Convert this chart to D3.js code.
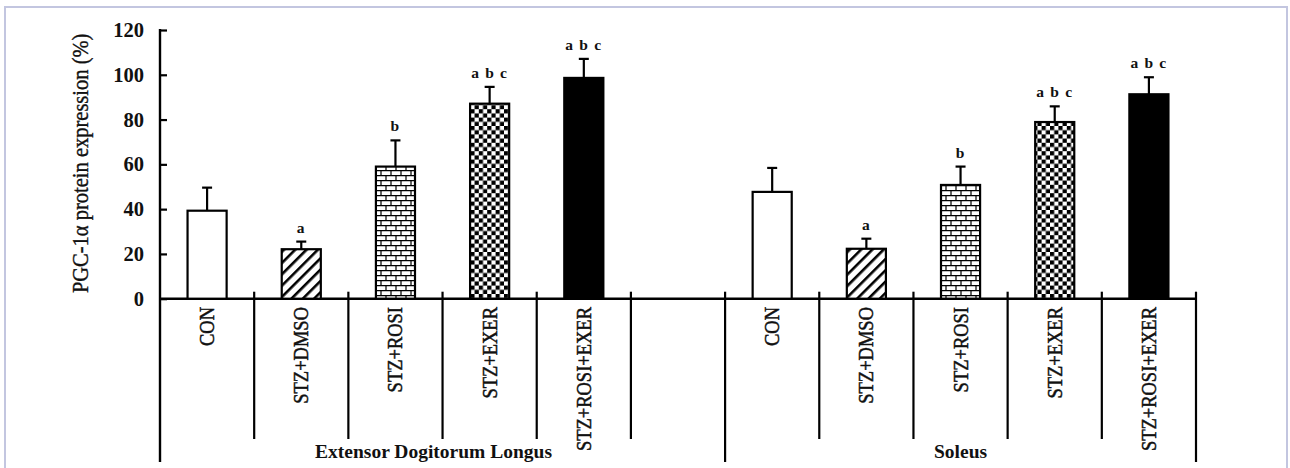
<!DOCTYPE html>
<html>
<head>
<meta charset="utf-8">
<script src="https://cdn.jsdelivr.net/npm/d3@7/dist/d3.min.js"></script>
<style>
  html, body { margin: 0; padding: 0; background: #fff; }
  svg { display: block; font-family: "Liberation Serif", "Times New Roman", serif; }
</style>
</head>
<body>
<svg id="chart" width="1290" height="468"></svg>
<script>
// ---- data ----
const groups = ["Extensor Dogitorum Longus", "Soleus"];
const treatments = ["CON", "STZ+DMSO", "STZ+ROSI", "STZ+EXER", "STZ+ROSI+EXER"];
const edlMeans = [39.3, 22.1, 59.0, 87.1, 98.6];
const edlErrors = [10.3, 3.4, 11.7, 7.5, 8.5];
const soleusMeans = [47.7, 22.3, 50.8, 78.9, 91.3];
const soleusErrors = [10.7, 4.5, 8.2, 7.0, 7.6];
const sigLetters = ["", "a", "b", "a b c", "a b c"];
const fills = ["white", "diag", "brick", "check", "black"];
const yTicks = [0, 20, 40, 60, 80, 100, 120];
const yLabel = "PGC-1\u03b1 protein  expression (%)";

// slots: 5 EDL, 1 gap, 5 Soleus
const slots = [];
treatments.forEach((t, i) => slots.push({key: "EDL-" + i, group: 0, i}));
slots.push({key: "gap", group: -1});
treatments.forEach((t, i) => slots.push({key: "SOL-" + i, group: 1, i}));

const rows = [];
treatments.forEach((t, i) => rows.push({key: "EDL-" + i, t, mean: edlMeans[i], err: edlErrors[i], letter: sigLetters[i], fill: fills[i]}));
treatments.forEach((t, i) => rows.push({key: "SOL-" + i, t, mean: soleusMeans[i], err: soleusErrors[i], letter: sigLetters[i], fill: fills[i]}));

const svg = d3.select("#chart");

// outer frame
svg.append("rect").attr("x", 5).attr("y", 7).attr("width", 1282).attr("height", 480)
  .attr("fill", "white").attr("stroke", "#c3c6e0").attr("stroke-width", 2);

// patterns
const defs = svg.append("defs");
const pDiag = defs.append("pattern").attr("id", "diag").attr("patternUnits", "userSpaceOnUse")
  .attr("width", 8).attr("height", 8).attr("patternTransform", "rotate(45)");
pDiag.append("rect").attr("width", 8).attr("height", 8).attr("fill", "white");
pDiag.append("rect").attr("x", 0).attr("y", 0).attr("width", 2.6).attr("height", 8).attr("fill", "black");

const pBrick = defs.append("pattern").attr("id", "brick").attr("patternUnits", "userSpaceOnUse")
  .attr("width", 10).attr("height", 10);
pBrick.append("rect").attr("width", 10).attr("height", 10).attr("fill", "white");
pBrick.append("path").attr("d", "M0,0.6H10 M0,5.6H10 M1,0V5 M6,5V10")
  .attr("stroke", "black").attr("stroke-width", 1.2).attr("fill", "none");

const pCheck = defs.append("pattern").attr("id", "check").attr("patternUnits", "userSpaceOnUse")
  .attr("width", 8.4).attr("height", 8.4);
pCheck.append("rect").attr("width", 8.4).attr("height", 8.4).attr("fill", "white");
pCheck.append("rect").attr("x", 0).attr("y", 0).attr("width", 4.2).attr("height", 4.2).attr("fill", "black");
pCheck.append("rect").attr("x", 4.2).attr("y", 4.2).attr("width", 4.2).attr("height", 4.2).attr("fill", "black");

const fillOf = f => f === "white" ? "white" : f === "black" ? "black" : "url(#" + f + ")";

// scales
const x = d3.scaleBand().domain(slots.map(s => s.key)).range([160, 1196]).paddingInner(0).paddingOuter(0);
const y = d3.scaleLinear().domain([0, 120]).range([298.7, 30]);
const bw = x.bandwidth();
const barW = bw * 0.415;

// y axis
const yAxis = d3.axisLeft(y).tickValues(yTicks).tickSizeInner(-7).tickSizeOuter(0).tickPadding(16);
const gy = svg.append("g").attr("transform", "translate(160,0)").call(yAxis);
gy.select(".domain").remove();
gy.selectAll(".tick line").attr("stroke", "black").attr("stroke-width", 2.2);
gy.selectAll(".tick text").attr("font-family", "Liberation Serif, serif").attr("font-size", 20.5)
  .attr("font-weight", "bold").attr("fill", "#111");

svg.append("line").attr("x1", 160).attr("x2", 160).attr("y1", y(120) - 1).attr("y2", 462)
  .attr("stroke", "black").attr("stroke-width", 2.4);

// y label
svg.append("text").attr("transform", `translate(88,${(30 + 298.7) / 2 - 1}) rotate(-90) scale(1,1.08)`)
  .attr("text-anchor", "middle").attr("font-size", 20.5).attr("fill", "#111")
  .attr("stroke", "#111").attr("stroke-width", 0.35).text(yLabel);

// x axis line
svg.append("line").attr("x1", 160).attr("x2", 1196).attr("y1", y(0)).attr("y2", y(0))
  .attr("stroke", "black").attr("stroke-width", 2.4);

// separators
const bounds = d3.range(1, slots.length + 1).map(k => ({k, xp: x(slots[k - 1].key) + bw}));
const longAt = new Set([6, 11]);
svg.append("g").selectAll("line").data(bounds).join("line")
  .attr("x1", d => d.xp).attr("x2", d => d.xp)
  .attr("y1", y(0) - 7).attr("y2", d => longAt.has(d.k) ? 462 : 439)
  .attr("stroke", "black").attr("stroke-width", 2.2);

// bars
svg.append("g").selectAll("rect").data(rows).join("rect")
  .attr("x", d => x(d.key) + bw / 2 - barW / 2)
  .attr("width", barW)
  .attr("y", d => y(d.mean))
  .attr("height", d => y(0) - y(d.mean))
  .attr("fill", d => fillOf(d.fill))
  .attr("stroke", "black").attr("stroke-width", 2.2);

// error bars
const eb = svg.append("g").attr("stroke", "black").attr("stroke-width", 2.2);
eb.selectAll(".v").data(rows).join("line").attr("class", "v")
  .attr("x1", d => x(d.key) + bw / 2).attr("x2", d => x(d.key) + bw / 2)
  .attr("y1", d => y(d.mean)).attr("y2", d => y(d.mean + d.err));
eb.selectAll(".c").data(rows).join("line").attr("class", "c")
  .attr("x1", d => x(d.key) + bw / 2 - 5).attr("x2", d => x(d.key) + bw / 2 + 5)
  .attr("y1", d => y(d.mean + d.err)).attr("y2", d => y(d.mean + d.err));

// significance letters
svg.append("g").selectAll("text").data(rows.filter(d => d.letter)).join("text")
  .attr("x", d => x(d.key) + bw / 2).attr("y", d => y(d.mean + d.err) - 9)
  .attr("text-anchor", "middle").attr("font-size", 15.5).attr("font-weight", "bold")
  .attr("letter-spacing", 1.2).attr("fill", "#111").text(d => d.letter);

// category labels (rotated)
svg.append("g").selectAll("text").data(rows).join("text")
  .attr("transform", d => `translate(${x(d.key) + bw / 2 + 7},307) rotate(-90) scale(1,1.12)`)
  .attr("text-anchor", "end").attr("font-size", 18.5).attr("fill", "#111")
  .attr("stroke", "#111").attr("stroke-width", 0.45).text(d => d.t);

// group labels
const edlCenter = (x("EDL-0") + x("gap") + bw) / 2 - 9;
const solCenter = (x("SOL-0") + x("SOL-4") + bw) / 2;
svg.append("text").attr("x", edlCenter).attr("y", 458).attr("text-anchor", "middle")
  .attr("font-size", 19.5).attr("font-weight", "bold").attr("fill", "#111").text(groups[0]);
svg.append("text").attr("x", solCenter).attr("y", 458).attr("text-anchor", "middle")
  .attr("font-size", 19.5).attr("font-weight", "bold").attr("fill", "#111").text(groups[1]);
</script>
</body>
</html>
